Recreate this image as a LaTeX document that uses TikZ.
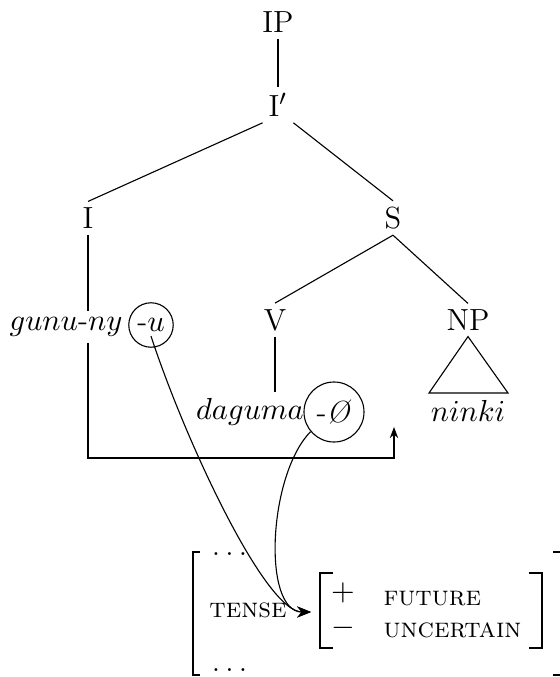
\documentclass[tikz,border=0pt]{standalone}
\usetikzlibrary{arrows.meta}
\begin{document}
\begin{tikzpicture}[
  x=0.36pt,
  y=-0.36pt,
  cat/.style={inner sep=2pt,font=\fontsize{11}{13}\selectfont},
  morph/.style={circle,draw=black,inner sep=0pt,font=\fontsize{11}{13}\selectfont},
  feat/.style={font=\scshape,inner sep=0pt},
  brk/.style={draw=black,line width=0.6pt},
  link/.style={draw=black,-{Stealth[length=5pt,width=4pt]}}
]
  \useasboundingbox (0,0) rectangle (559,677);

  % tree
  \node[cat] (IP) at (278,22) {IP};
  \node[cat] (ibar) at (278,105) {I$'$};
  \node[cat] (I) at (88,218) {I};
  \node[cat] (S) at (393,218) {S};
  \node[cat] (V) at (275,320) {V};
  \node[cat] (NP) at (468,320) {NP};
  \node[cat] (gunu) at (66,327) {$gunu$-$ny$};
  \node[morph,minimum size=16pt] (u) at (151,325) {-$u$};
  \node[cat] (daguma) at (250,412) {$daguma$};
  \node[morph,minimum size=21.6pt] (zero) at (334,412) {-\textit{\O}};
  \node[cat] (ninki) at (468,411) {$ninki$};
  \coordinate (baseL) at (429,393);
  \coordinate (baseR) at (508,393);
  \coordinate (target) at (394,427);

  \draw (IP) -- (ibar);
  \draw (ibar.south west) -- (I.north);
  \draw (ibar.south east) -- (S.north);
  \draw (S.south) -- (V.north);
  \draw (S.south) -- (NP.north);
  \draw (V.south) -- (V.south |- daguma.north);
  \draw (NP.south) -- (baseL) -- (baseR) -- cycle;
  \draw (I.south) -- (I.south |- gunu.north);
  \draw[-{Stealth[length=4pt,width=3pt]}] (I.south |- gunu.south) -- (88,458) -| (target);

  % feature structure
  \node[feat,anchor=base west] (dotstop) at (211,555) {.\,.\,.};
  \node[feat] (tense) at (248,610) {tense};
  \node[feat,anchor=base west] (dotsbot) at (211,671) {.\,.\,.};
  \node[inner sep=0pt,font=\fontsize{11}{13}\selectfont] (plus) at (343,593) {$+$};
  \node[inner sep=0pt,font=\fontsize{11}{13}\selectfont] (minus) at (343,628) {$-$};
  \node[feat,anchor=base west] (future) at (383,605) {future};
  \node[feat,anchor=base west] (uncertain) at (383,637) {uncertain};
  \coordinate (tip) at (311,612);

  \draw[brk] (200,552) -- (193,552) -- (193,675) -- (200,675);
  \draw[brk] (333,573) -- (320,573) -- (320,648) -- (333,648);
  \draw[brk] (529,573) -- (542,573) -- (542,648) -- (529,648);
  \draw[brk] (553,552) -- (562,552) -- (562,675) -- (553,675);

  \draw[link] ([yshift=-4pt]u.center) .. controls (185,440) and (265,612) .. (tip);
  \draw[link] (zero.220) .. controls (268,475) and (262,612) .. (tip);
\end{tikzpicture}
\end{document}
